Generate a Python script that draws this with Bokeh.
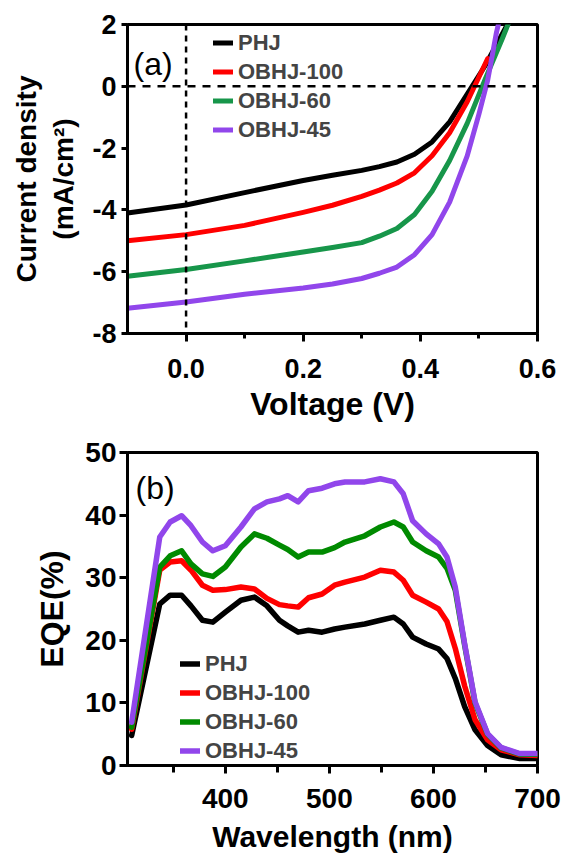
from bokeh.plotting import figure
from bokeh.models import Span, Label, Legend, LegendItem, FixedTicker, Range1d, NumeralTickFormatter
from bokeh.layouts import column
from bokeh.embed import file_html
from bokeh.resources import INLINE

FONT = "Liberation Sans"

series_names = ["PHJ", "OBHJ-100", "OBHJ-60", "OBHJ-45"]
jv_colors = ["#000000", "#ff0000", "#17964a", "#9146eb"]
eqe_colors = ["#000000", "#ff0000", "#008a00", "#9146eb"]

# ---- (a) J-V curves ----
v_phj = [-0.10, 0.00, 0.10, 0.20, 0.25, 0.30, 0.33, 0.36, 0.39, 0.42, 0.45, 0.48, 0.51, 0.55]
j_phj = [-4.10, -3.84, -3.44, -3.05, -2.88, -2.72, -2.60, -2.45, -2.20, -1.80, -1.15, -0.25, 0.65, 2.05]

v_obhj100 = [-0.10, 0.00, 0.10, 0.20, 0.25, 0.30, 0.33, 0.36, 0.39, 0.42, 0.45, 0.48, 0.515]
j_obhj100 = [-5.00, -4.80, -4.50, -4.08, -3.85, -3.56, -3.36, -3.13, -2.80, -2.25, -1.50, -0.50, 0.90]

v_obhj60 = [-0.10, 0.00, 0.10, 0.20, 0.25, 0.30, 0.33, 0.36, 0.39, 0.42, 0.45, 0.48, 0.51, 0.54, 0.556]
j_obhj60 = [-6.15, -5.93, -5.65, -5.36, -5.22, -5.06, -4.85, -4.60, -4.15, -3.40, -2.40, -1.20, 0.20, 1.55, 2.30]

v_obhj45 = [-0.10, 0.00, 0.10, 0.20, 0.25, 0.30, 0.33, 0.36, 0.39, 0.42, 0.45, 0.48, 0.50, 0.515, 0.53, 0.537]
j_obhj45 = [-7.18, -6.98, -6.73, -6.53, -6.40, -6.22, -6.05, -5.85, -5.45, -4.80, -3.75, -2.25, -0.90, 0.20, 1.75, 2.30]

jv_v = [v_phj, v_obhj100, v_obhj60, v_obhj45]
jv_j = [j_phj, j_obhj100, j_obhj60, j_obhj45]

jv_xticks = [0.0, 0.2, 0.4, 0.6]
jv_xminor = [0.1, 0.3, 0.5]
jv_yticks = [-8, -6, -4, -2, 0, 2]

# ---- (b) EQE spectra ----
wavelength = [310, 337, 347, 358, 367, 378, 388, 400, 415, 428, 440, 452, 460, 470, 480, 493,
              505, 515, 534, 549, 562, 571, 580, 593, 605, 613, 621, 630, 640, 652, 665, 683, 700]
eqe_phj = [4.8, 25.8, 27.2, 27.2, 25.5, 23.2, 22.9, 24.5, 26.4, 26.9, 25.5, 23.2, 22.3, 21.3, 21.6, 21.3,
           21.8, 22.1, 22.6, 23.2, 23.7, 22.6, 20.5, 19.4, 18.6, 17.1, 13.9, 9.4, 5.7, 3.2, 1.7, 1.1, 1.1]
eqe_obhj100 = [5.8, 31.2, 32.5, 32.7, 31.2, 28.8, 28.0, 28.1, 28.5, 28.2, 26.7, 25.7, 25.5, 25.3, 26.8, 27.4,
               28.8, 29.3, 30.1, 31.2, 30.9, 29.6, 27.2, 26.1, 25.0, 23.0, 18.7, 12.7, 7.3, 4.1, 2.5, 1.7, 1.6]
eqe_obhj60 = [6.1, 31.7, 33.5, 34.3, 32.2, 30.6, 30.2, 31.7, 34.9, 37.0, 36.3, 35.2, 34.5, 33.3, 34.1, 34.1,
              34.8, 35.7, 36.7, 38.1, 38.9, 38.1, 35.7, 34.3, 33.3, 31.5, 28.0, 19.2, 10.0, 5.0, 2.8, 1.8, 1.8]
eqe_obhj45 = [6.9, 36.5, 38.9, 39.9, 38.3, 35.7, 34.3, 35.1, 38.1, 41.0, 42.1, 42.6, 43.1, 42.1, 43.9, 44.3,
              45.0, 45.3, 45.3, 45.8, 45.3, 43.4, 39.1, 37.0, 35.4, 33.3, 28.5, 19.4, 10.2, 5.1, 2.9, 1.9, 1.9]
eqe_values = [eqe_phj, eqe_obhj100, eqe_obhj60, eqe_obhj45]

eqe_xticks = [400, 500, 600, 700]
eqe_xminor = [350, 450, 550, 650]
eqe_yticks = [0, 10, 20, 30, 40, 50]


def style_axes(p, tick_size, label_size_x, label_size_y):
    p.grid.visible = False
    p.outline_line_color = "black"
    p.outline_line_width = 3
    p.outline_line_alpha = 1
    for ax in p.axis:
        ax.axis_line_width = 3
        ax.axis_line_color = "black"
        ax.major_tick_line_width = 3
        ax.minor_tick_line_width = 3
        ax.major_tick_in = 0
        ax.minor_tick_in = 0
        ax.major_label_text_font = FONT
        ax.major_label_text_font_style = "bold"
        ax.major_label_text_font_size = tick_size
        ax.major_label_text_color = "black"
        ax.axis_label_text_font = FONT
        ax.axis_label_text_font_style = "bold"
        ax.axis_label_text_color = "black"
    p.xaxis.axis_label_text_font_size = label_size_x
    p.yaxis.axis_label_text_font_size = label_size_y


# ---------- Panel (a) ----------
p1 = figure(width=577, height=429, x_range=Range1d(-0.1, 0.6), y_range=Range1d(-8, 2),
            output_backend="svg", toolbar_location=None,
            min_border_left=127, min_border_right=40, min_border_top=24, min_border_bottom=96)
style_axes(p1, "27px", "32px", "28px")
p1.xaxis.ticker = FixedTicker(ticks=jv_xticks, minor_ticks=jv_xminor)
p1.yaxis.ticker = FixedTicker(ticks=jv_yticks, minor_ticks=[])
p1.xaxis.formatter = NumeralTickFormatter(format="0.0")
p1.yaxis.formatter = NumeralTickFormatter(format="0")
p1.xaxis.major_tick_out = 8
p1.xaxis.minor_tick_out = 5
p1.yaxis.major_tick_out = 6
p1.xaxis.major_label_standoff = 17
p1.yaxis.major_label_standoff = 5
p1.xaxis.axis_label = "Voltage (V)"
p1.yaxis.axis_label = "Current density\n(mA/cm²)"
p1.xaxis.axis_label_standoff = 5
p1.yaxis.axis_label_standoff = 10

p1.add_layout(Span(location=0, dimension="width", line_color="black", line_width=2.5, line_dash="8 7"))
p1.add_layout(Span(location=0, dimension="height", line_color="black", line_width=2.5, line_dash="6 5"))

items1 = []
for name, col, vs, js in zip(series_names, jv_colors, jv_v, jv_j):
    r = p1.line(vs, js, line_color=col, line_width=5, line_join="round", line_cap="round")
    items1.append(LegendItem(label=name, renderers=[r]))
leg1 = Legend(items=items1, location=(86, 189), padding=0, margin=0, spacing=0,
              glyph_width=20, glyph_height=29, label_height=29, label_standoff=5,
              label_text_font=FONT, label_text_font_style="bold", label_text_font_size="22px",
              border_line_alpha=0, background_fill_alpha=0)
p1.add_layout(leg1)
p1.add_layout(Label(x=6, y=270, x_units="screen", y_units="screen", text="(a)",
                    text_font=FONT, text_font_size="32px", text_baseline="middle", text_color="black"))

# ---------- Panel (b) ----------
p2 = figure(width=577, height=427, x_range=Range1d(306, 700), y_range=Range1d(0, 50),
            output_backend="svg", toolbar_location=None,
            min_border_left=127, min_border_right=29, min_border_top=23, min_border_bottom=91)
style_axes(p2, "28px", "30px", "32px")
p2.xaxis.ticker = FixedTicker(ticks=eqe_xticks, minor_ticks=eqe_xminor)
p2.yaxis.ticker = FixedTicker(ticks=eqe_yticks, minor_ticks=[])
p2.xaxis.major_tick_out = 8
p2.xaxis.minor_tick_out = 7
p2.yaxis.major_tick_out = 8
p2.xaxis.major_label_standoff = 15
p2.yaxis.major_label_standoff = 3
p2.xaxis.axis_label = "Wavelength (nm)"
p2.yaxis.axis_label = "EQE(%)"
p2.xaxis.axis_label_standoff = 9
p2.yaxis.axis_label_standoff = 12

items2 = []
for name, col, vals in zip(series_names, eqe_colors, eqe_values):
    r = p2.line(wavelength, vals, line_color=col, line_width=5.5, line_join="round", line_cap="round")
    items2.append(LegendItem(label=name, renderers=[r]))
leg2 = Legend(items=items2, location=(53, 0), padding=0, margin=0, spacing=0,
              glyph_width=20, glyph_height=29, label_height=29, label_standoff=5,
              label_text_font=FONT, label_text_font_style="bold", label_text_font_size="22px",
              border_line_alpha=0, background_fill_alpha=0)
p2.add_layout(leg2)
p2.add_layout(Label(x=8, y=278, x_units="screen", y_units="screen", text="(b)",
                    text_font=FONT, text_font_size="32px", text_baseline="middle", text_color="black"))

layout = column(p1, p2, spacing=0)
open("out.html", "w").write(file_html(layout, INLINE))
